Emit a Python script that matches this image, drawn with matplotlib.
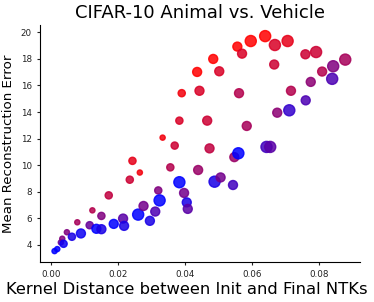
import matplotlib
matplotlib.use("Agg")
import matplotlib.pyplot as plt
from matplotlib.colors import LinearSegmentedColormap
import numpy as np

# Kernel distance (x) and mean reconstruction error (y)
kernel_distance = [
    0.00105, 0.00186, 0.00293, 0.00335, 0.00374, 0.00473, 0.00623, 0.00784, 0.00892, 0.01153,
    0.01234, 0.01353, 0.01503, 0.01503, 0.01722, 0.01871, 0.0215, 0.0218, 0.0235, 0.0243,
    0.0260, 0.0265, 0.0276, 0.0295, 0.0311, 0.0320, 0.0324, 0.0333, 0.0356, 0.0369,
    0.0383, 0.0383, 0.0390, 0.0397, 0.0405, 0.0408, 0.0436, 0.0439, 0.0443, 0.0466,
    0.0473, 0.0484, 0.0488, 0.0502, 0.0506, 0.0543, 0.0547, 0.0556, 0.0559, 0.0561,
    0.0570, 0.0584, 0.0596, 0.0639, 0.0643, 0.0654, 0.0666, 0.0668, 0.0675, 0.0706,
    0.0711, 0.0716, 0.0759, 0.0760, 0.0775, 0.0791, 0.0809, 0.0839, 0.0842, 0.0878,
]
recon_error = [
    3.52, 3.67, 4.17, 4.45, 4.07, 4.94, 4.60, 5.69, 4.85, 5.47,
    6.59, 5.20, 5.17, 6.17, 7.72, 5.57, 5.97, 5.42, 8.90, 10.32,
    6.27, 9.44, 6.92, 5.80, 6.50, 8.09, 7.34, 12.07, 9.83, 11.47,
    8.71, 13.35, 15.42, 7.90, 7.19, 6.70, 17.02, 9.63, 15.60, 13.35,
    11.26, 18.00, 8.75, 17.07, 9.07, 8.50, 10.60, 18.93, 10.89, 15.42,
    18.40, 12.95, 19.35, 19.72, 11.37, 11.37, 17.58, 19.05, 13.95, 19.35,
    14.13, 15.60, 18.35, 14.88, 16.27, 18.52, 17.05, 16.50, 17.45, 17.95,
]
# colour parameter (0 = blue, 1 = red)
color_value = [
    0.0, 0.0, 0.4, 0.5, 0.05, 0.5, 0.1, 0.65, 0.05, 0.4,
    0.7, 0.0, 0.1, 0.5, 0.75, 0.0, 0.35, 0.1, 0.8, 0.9,
    0.0, 0.95, 0.45, 0.1, 0.3, 0.5, 0.0, 0.95, 0.7, 0.8,
    0.0, 0.85, 0.95, 0.45, 0.1, 0.35, 1.0, 0.6, 0.85, 0.8,
    0.75, 1.0, 0.1, 0.85, 0.45, 0.25, 0.6, 1.0, 0.0, 0.7,
    0.85, 0.65, 1.0, 1.0, 0.25, 0.35, 0.8, 0.85, 0.55, 0.9,
    0.2, 0.7, 0.8, 0.3, 0.55, 0.8, 0.7, 0.3, 0.5, 0.65,
]
# size class (1 = smallest ... 4 = largest)
size_class = [
    1, 1, 1, 1, 2, 1, 2, 1, 3, 2,
    1, 3, 3, 2, 2, 3, 3, 3, 2, 2,
    4, 1, 3, 3, 3, 2, 4, 1, 2, 2,
    4, 2, 2, 3, 3, 3, 3, 3, 3, 3,
    3, 3, 4, 3, 3, 3, 3, 3, 4, 3,
    3, 3, 4, 4, 4, 4, 3, 4, 3, 4,
    4, 3, 3, 3, 3, 4, 3, 4, 4, 4,
]
size_map = {1: 14, 2: 27, 3: 42, 4: 64}

cmap = LinearSegmentedColormap.from_list("br", [(0, 0, 1), (1, 0, 0)])

fig, ax = plt.subplots(figsize=(3.74, 3.02), dpi=100)
sizes = [size_map[s] for s in size_class]
cols = cmap(np.array(color_value))
ax.scatter(kernel_distance, recon_error, s=sizes, c=cols, alpha=0.85,
           edgecolors=cols, linewidths=1.0)

ax.spines["top"].set_visible(False)
ax.spines["right"].set_visible(False)
ax.set_xticks([0.0, 0.02, 0.04, 0.06, 0.08])
ax.set_xticklabels(["0.00", "0.02", "0.04", "0.06", "0.08"])
ax.set_yticks([4, 6, 8, 10, 12, 14, 16, 18, 20])
ax.tick_params(labelsize=6.3, length=2.5, width=0.8, colors="#222222", labelcolor="#222222")
ax.set_xlabel("Kernel Distance between Init and Final NTKs", fontsize=11.8, labelpad=3)
ax.xaxis.set_label_coords(0.46, -0.085)
ax.set_ylabel("Mean Reconstruction Error", fontsize=9.6)
ax.set_title("CIFAR-10 Animal vs. Vehicle", fontsize=13, pad=5)

fig.subplots_adjust(left=0.107, right=0.962, bottom=0.133, top=0.916)
fig.savefig("out.png", dpi=100)
